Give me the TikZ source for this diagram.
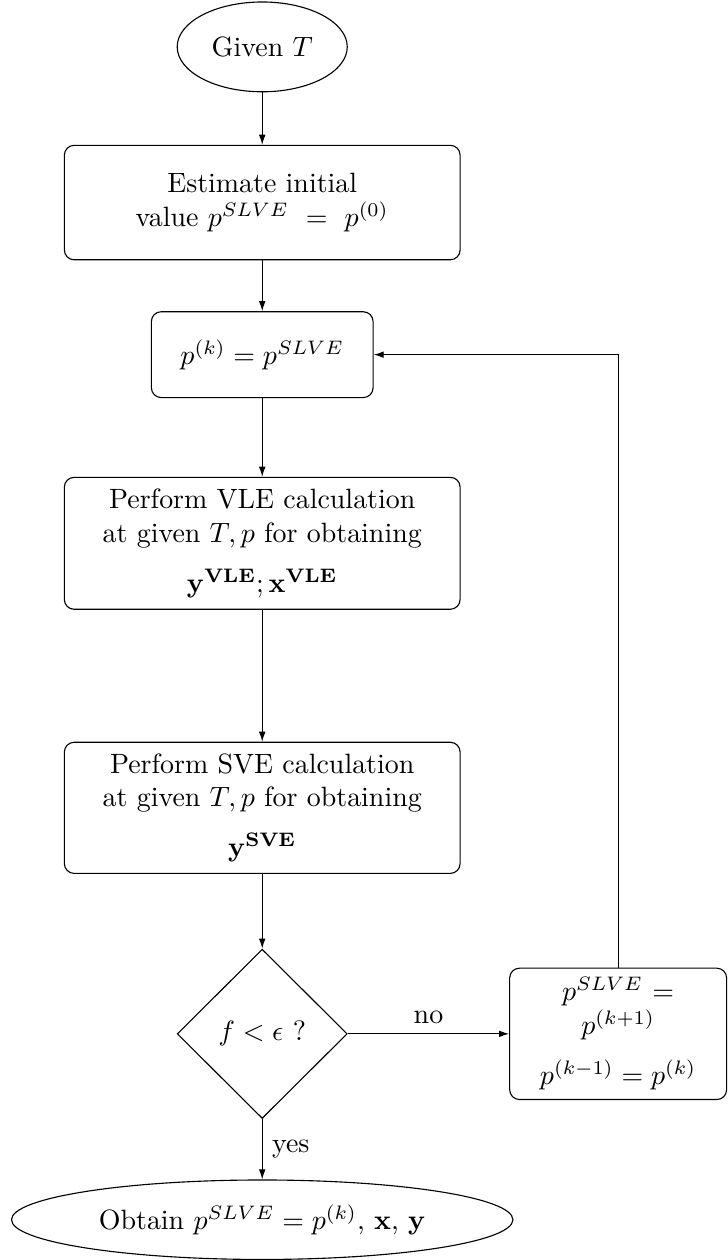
\documentclass[tikz,border=0pt]{standalone}
\usepackage{tikz}
\usetikzlibrary{arrows.meta,positioning,shapes.geometric}

\begin{document}
\begin{tikzpicture}[
  box/.style={draw, rounded corners=3.5pt, align=center, minimum width=4.98cm},
  terminal/.style={draw, ellipse, align=center},
  decision/.style={draw, diamond, aspect=1, align=center, inner sep=0pt, minimum width=2.14cm, minimum height=2.13cm},
  arr/.style={-{Latex[length=3.6pt,width=2.4pt]}},
  note/.style={align=center}
]

\node[terminal, minimum width=2.14cm, minimum height=1.13cm] (given) {Given $T$};
\node[box, minimum height=1.44cm, below=0.66cm of given] (init) {Estimate initial\\value $p^{SLVE}\ =\ p^{(0)}$};
\node[box, minimum width=2.79cm, minimum height=1.08cm, below=0.64cm of init] (pk) {$p^{(k)} = p^{SLVE}$};
\node[box, minimum height=1.66cm, below=0.99cm of pk] (vle) {Perform VLE calculation\\at given $T,p$ for obtaining\\[6pt]$\mathbf{y}^{\mathbf{VLE}};\mathbf{x}^{\mathbf{VLE}}$};
\node[box, minimum height=1.65cm, below=1.66cm of vle] (sve) {Perform SVE calculation\\at given $T,p$ for obtaining\\[6pt]$\mathbf{y}^{\mathbf{SVE}}$};
\node[decision, below=0.94cm of sve] (check) {$f<\epsilon$ ?};
\node[box, minimum width=2.73cm, minimum height=1.64cm, right=2.03cm of check] (update) {$p^{SLVE}$ =\\$p^{(k+1)}$\\[6pt]$p^{(k-1)} = p^{(k)}$};
\node[terminal, minimum width=6.31cm, minimum height=1.0cm, below=0.76cm of check] (result) {Obtain $p^{SLVE} = p^{(k)}$, $\mathbf{x}$, $\mathbf{y}$};

\draw[arr] (given) -- (init);
\draw[arr] (init) -- (pk);
\draw[arr] (pk) -- (vle);
\draw[arr] (vle) -- (sve);
\draw[arr] (sve) -- (check);
\draw[arr] (check) -- node[note, above] {no} (update);
\draw[arr] (check) -- node[note, right] {yes} (result);
\draw[arr] (update.north) |- (pk.east);

\useasboundingbox (-3.30,0.59) rectangle (5.74,-15.17);

\end{tikzpicture}
\end{document}
